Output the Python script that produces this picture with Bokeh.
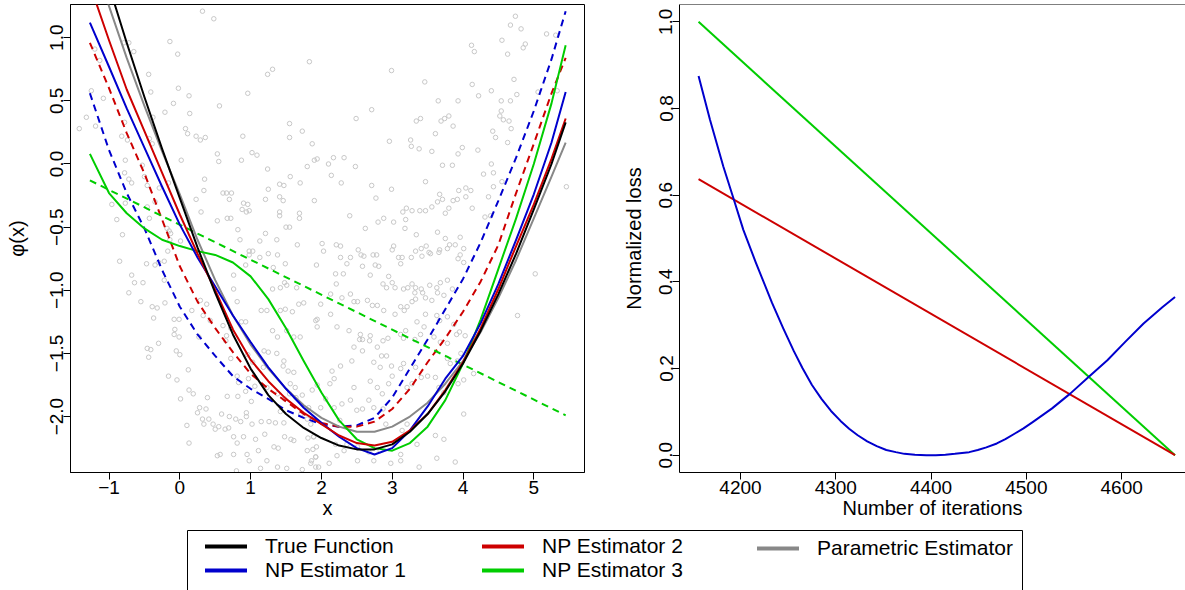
from bokeh.plotting import figure
from bokeh.layouts import column, row
from bokeh.models import (Range1d, FixedTicker, LinearAxis, Legend, LegendItem, Span,
                          PrintfTickFormatter)
from bokeh.embed import file_html
from bokeh.resources import INLINE

FONT = "Liberation Sans"
TICK_SIZE = "19px"
LAB_SIZE = "20px"
LEG_SIZE = "21px"

BLACK = "#000000"
BLUE = "#0000CD"
RED = "#CD0000"
GREEN = "#00CD00"
GREY = "#888888"
PT_GREY = "#C8C8C8"

# ---------------- left panel: observations ----------------
pts_upper_left = [
    (-1.42, 0.28), (-1.32, 0.37), (-1.25, 0.58), (-1.20, 0.91), (-1.13, 0.82), (-1.08, 0.52), (-1.19, 0.30),
    (-0.79, 0.96), (-0.72, 0.96), (-0.65, 0.89), (-0.44, 0.71), (-0.41, 0.57), (-0.14, 0.97), (-0.03, 0.87),
    (-0.02, 0.60), (-0.09, 0.48), (0.13, 0.54), (-0.21, 0.41), (-0.38, 0.37), (0.14, 0.40), (0.32, 1.21),
    (0.48, 1.15), (0.56, 0.46), (0.96, 0.56), (0.89, 0.22), (1.24, 0.71), (1.31, 0.75), (1.83, 0.81),
    (1.55, 0.32), (1.55, 0.21), (1.73, 0.26), (1.87, 0.16), (1.90, 0.03), (1.94, 0.04), (1.80, -0.02),
    (1.56, -0.10), (1.70, -0.15), (1.41, -0.16), (1.47, -0.17), (1.24, -0.04), (1.09, 0.07), (1.02, 0.09),
    (0.87, 0.03), (0.53, 0.08), (0.55, 0.02), (0.23, 0.22), (0.36, 0.21), (0.29, 0.19), (0.08, 0.28),
    (0.11, 0.24), (0.02, 0.03), (0.35, -0.12), (0.34, -0.21), (0.23, -0.28), (0.61, -0.23), (0.66, -0.23),
    (0.73, -0.23), (0.70, -0.28), (0.30, -0.38), (0.53, -0.45), (0.67, -0.43), (0.72, -0.43), (0.90, -0.31),
    (0.96, -0.32), (0.88, -0.36), (0.94, -0.38), (0.98, -0.37), (0.82, -0.52), (0.85, -0.60), (1.21, -0.28),
    (1.25, -0.20), (1.41, -0.26), (1.46, -0.29), (1.41, -0.38), (1.41, -0.41), (1.55, -0.50), (1.69, -0.39),
    (1.69, -0.43), (1.13, -0.61), (1.21, -0.55), (1.37, -0.60), (1.50, -0.50), (1.66, -0.64), (1.90, -0.29),
    (1.03, -0.69), (0.98, -0.69), (-0.89, -0.44), (-0.96, -0.32), (-0.81, -0.56), (-0.77, -0.31),
    (-0.78, 0.33), (-0.82, 0.22), (-0.74, 0.19), (-0.77, 0.03), (-0.78, -0.07), (-0.72, -0.12), (-0.68, -0.15),
    (-0.53, -0.01), (-0.50, -0.10), (-0.46, -0.17), (-0.46, -0.34), (-0.43, -0.43), (-0.35, -0.30),
    (-0.29, -0.19), (-0.16, -0.15), (-0.18, -0.51), (-0.15, -0.53), (-0.13, -0.55), (-0.14, -0.60),
    (0.01, -0.61), (-0.17, -0.69), (-0.39, 0.16), (-0.43, 0.20),
]
pts_upper_right = [
    (2.14, -0.09), (2.10, 0.00), (2.17, 0.05), (2.32, 0.05), (2.28, -0.15), (2.48, -0.02), (2.49, 0.36),
    (2.71, 0.43), (2.99, 0.74), (2.96, 0.18), (2.71, -0.17), (2.77, -0.27), (2.99, -0.20), (2.40, -0.41),
    (2.62, -0.51), (2.80, -0.46), (2.88, -0.43), (3.02, -0.46), (3.19, -0.44), (3.15, -0.38), (3.20, -0.35),
    (3.28, -0.37), (3.39, -0.37), (3.47, -0.37), (3.56, -0.34), (3.64, -0.30), (3.67, -0.24), (3.71, -0.28),
    (3.75, -0.39), (3.80, -0.35), (3.86, -0.29), (3.92, -0.28), (3.93, 0.50), (3.65, 0.50), (3.46, 0.65),
    (3.34, 0.34), (3.40, 0.36), (3.26, 0.19), (3.27, 0.14), (3.38, 0.12), (3.56, 0.10), (3.61, 0.24),
    (3.69, 0.34), (3.74, 0.36), (3.80, 0.38), (3.86, 0.30), (3.93, 0.08), (3.99, 0.13), (3.85, -0.01),
    (3.71, -0.01), (3.47, -0.14), (3.94, -0.21), (4.04, -0.19), (4.04, -0.26), (4.11, -0.21), (4.13, -0.35),
    (4.21, 0.11), (4.13, 0.63), (4.22, 0.54), (4.12, 0.94), (4.16, 0.89), (4.29, -0.08), (4.43, -0.07),
    (4.40, 0.58), (4.36, -0.26), (4.43, -0.18), (4.31, -0.42), (4.39, -0.41), (4.46, 0.21), (4.42, 0.26),
    (4.52, 0.38), (4.54, 0.42), (4.57, 0.35), (4.54, 0.50), (4.65, 0.34), (4.68, 0.28), (4.63, 0.17),
    (4.55, 0.98), (4.63, 0.87), (4.67, 1.10), (4.74, 1.17), (4.82, 1.07), (4.85, 0.92), (4.88, 0.95),
    (4.72, 0.67), (4.76, 0.55), (4.67, 0.50), (5.06, 0.57), (5.18, 1.03), (5.31, 1.02), (5.33, 0.58),
    (5.46, -0.18), (4.40, 0.00), (4.55, -0.14), (2.01, -0.63), (2.03, -0.69), (2.21, -0.64), (2.27, -0.65),
    (2.52, -0.68), (2.56, -0.72), (2.78, -0.72), (3.00, -0.68), (3.02, -0.65), (3.33, -0.69), (3.41, -0.67),
    (3.48, -0.65), (3.52, -0.70), (3.67, -0.68), (3.78, -0.67), (3.81, -0.64), (3.89, -0.64), (4.01, -0.67),
    (3.96, -0.58), (3.75, -0.59), (3.64, -0.54), (3.34, -0.56), (3.18, -0.51),
]
pts_lower_left = [
    (-0.85, -0.77), (-0.68, -0.88), (-0.64, -0.94), (-0.52, -0.94), (-0.47, -0.79), (-0.35, -0.80),
    (-0.30, -0.78), (-0.22, -0.77), (-0.72, -1.02), (-0.55, -1.09), (-0.39, -1.13), (-0.32, -1.14),
    (-0.37, -1.22), (-0.21, -1.10), (-0.22, -0.92), (-0.08, -1.23), (-0.01, -1.23), (-0.07, -1.31),
    (-0.08, -1.35), (-0.01, -1.37), (-0.46, -1.46), (-0.41, -1.47), (-0.44, -1.53), (-0.30, -1.42),
    (-0.05, -1.48), (0.00, -1.51), (-0.16, -1.68), (-0.04, -1.71), (0.01, -1.86), (0.12, -1.63),
    (0.13, -1.79), (0.19, -1.82), (0.28, -1.93), (0.25, -1.97), (0.32, -2.02), (0.41, -2.02), (0.39, -1.85),
    (0.37, -1.94), (0.34, -2.06), (0.10, -2.07), (0.13, -2.21), (0.47, -2.06), (0.50, -2.10), (0.55, -2.08),
    (0.59, -1.98), (0.70, -2.00), (0.79, -2.02), (0.86, -2.04), (0.69, -2.09), (0.64, -2.10), (0.76, -2.16),
    (0.81, -2.21), (0.90, -2.16), (0.94, -2.00), (0.94, -1.97), (1.02, -2.06), (1.07, -2.18), (1.11, -2.27),
    (0.95, -2.30), (0.98, -2.35), (0.76, -2.30), (0.53, -2.31), (0.57, -2.30), (0.80, -2.43), (1.14, -2.41),
    (1.23, -2.35), (1.38, -2.40), (1.51, -2.41), (1.33, -2.24), (1.39, -2.25), (1.48, -2.16), (1.57, -2.18),
    (1.61, -2.19), (1.26, -2.04), (1.15, -2.04), (1.35, -2.05), (1.20, -2.14), (1.47, -2.05), (1.42, -1.96),
    (1.71, -1.98), (1.80, -2.02), (1.81, -2.17), (1.89, -2.16), (1.93, -2.24), (1.88, -2.26), (1.92, -2.32),
    (1.86, -2.35), (1.92, -2.40), (1.73, -2.42), (0.67, -1.84), (0.82, -1.84), (1.01, -1.88), (0.93, -1.80),
    (1.06, -1.76), (1.23, -1.77), (1.38, -1.82), (1.55, -1.82), (1.48, -1.86), (1.63, -1.77), (1.64, -1.85),
    (1.73, -1.83), (1.61, -1.65), (1.56, -1.74), (1.53, -1.64), (1.46, -1.60), (1.37, -1.50), (1.47, -1.56),
    (1.25, -1.49), (1.18, -1.61), (1.19, -1.48), (0.96, -1.51), (1.03, -1.57), (0.97, -1.70), (0.81, -1.68),
    (0.83, -1.73), (0.72, -1.54), (0.65, -1.40), (0.66, -1.36), (0.72, -1.30), (0.61, -1.28), (0.87, -1.25),
    (0.93, -1.25), (1.15, -1.16), (1.23, -1.16), (1.42, -1.16), (1.49, -1.15), (1.59, -1.17), (1.68, -1.11),
    (1.75, -1.10), (1.92, -1.24), (1.94, -1.29), (1.51, -1.32), (1.31, -1.32), (1.38, -1.37), (1.61, -1.37),
    (1.70, -1.37), (1.42, -0.98), (1.51, -0.96), (1.65, -0.98), (1.31, -0.99), (1.48, -0.94), (1.32, -0.82),
    (1.49, -0.79), (0.93, -0.80), (1.13, -0.74), (1.25, -0.71), (1.38, -0.72), (0.98, -0.72), (0.76, -0.88),
    (0.81, -1.09), (0.76, -0.99), (0.29, -1.08), (0.17, -1.16), (0.27, -1.37), (0.33, -1.20), (0.43, -1.24),
    (0.38, -1.11),
]
pts_lower_right = [
    (2.27, -0.74), (2.41, -0.74), (2.60, -0.73), (2.73, -0.72), (3.09, -0.74), (3.14, -0.74), (3.27, -0.74),
    (3.42, -0.73), (3.54, -0.71), (3.66, -0.70), (3.93, -0.75), (4.01, -0.78), (3.96, -0.72), (3.12, -0.79),
    (2.76, -0.80), (2.58, -0.81), (2.81, -0.81), (2.69, -0.88), (2.36, -0.79), (2.20, -0.87), (2.31, -0.87),
    (1.93, -0.80), (2.21, -0.95), (2.95, -0.89), (3.00, -0.94), (2.92, -0.98), (2.87, -0.95), (3.04, -0.98),
    (3.16, -0.99), (3.22, -0.98), (3.28, -0.95), (3.33, -0.98), (3.41, -0.99), (3.32, -1.02), (3.43, -1.02),
    (3.53, -0.96), (3.63, -0.98), (3.68, -0.94), (3.78, -0.92), (3.85, -0.99), (3.73, -1.04), (3.64, -1.02),
    (3.47, -1.06), (3.56, -1.08), (3.33, -1.07), (3.21, -1.13), (3.17, -1.16), (3.28, -1.09), (3.12, -1.13),
    (3.04, -1.19), (2.88, -1.16), (2.79, -1.12), (2.72, -1.12), (2.65, -1.08), (2.51, -1.09), (2.46, -1.09),
    (2.41, -1.03), (2.29, -1.06), (2.13, -1.03), (1.99, -1.11), (1.94, -1.23), (2.13, -1.19), (2.22, -1.29),
    (2.39, -1.32), (2.55, -1.35), (2.58, -1.39), (2.69, -1.36), (2.54, -1.39), (2.68, -1.40), (2.79, -1.45),
    (2.87, -1.40), (2.94, -1.38), (3.12, -1.35), (3.16, -1.38), (3.19, -1.32), (3.32, -1.39), (3.40, -1.35),
    (3.35, -1.25), (3.47, -1.19), (3.45, -1.29), (3.63, -1.20), (3.67, -1.24), (3.78, -1.21), (3.87, -1.27),
    (3.91, -1.35), (3.95, -1.33), (3.78, -1.42), (3.68, -1.41), (3.59, -1.37), (3.78, -1.54), (3.82, -1.58),
    (3.92, -1.56), (3.97, -1.50), (4.03, -1.36), (4.15, -1.66), (4.01, -1.71), (3.93, -1.74), (3.73, -1.81),
    (3.66, -1.77), (3.61, -1.69), (3.50, -1.68), (3.41, -1.69), (3.33, -1.61), (3.16, -1.58), (3.12, -1.62),
    (2.99, -1.60), (2.92, -1.52), (2.85, -1.52), (2.74, -1.57), (2.58, -1.48), (2.46, -1.45), (2.43, -1.56),
    (2.27, -1.60), (2.15, -1.64), (2.18, -1.70), (2.12, -1.74), (2.06, -1.86), (1.94, -1.75), (1.87, -1.79),
    (1.99, -1.93), (1.82, -1.93), (1.85, -2.06), (1.89, -2.16), (1.80, -2.27), (1.92, -2.32), (1.96, -2.40),
    (1.85, -2.37), (2.11, -2.37), (2.22, -2.31), (2.20, -2.22), (2.32, -2.27), (2.36, -2.22), (2.51, -2.24),
    (2.51, -2.35), (2.67, -2.28), (2.74, -2.35), (2.83, -2.27), (2.98, -2.37), (3.12, -2.35), (3.12, -2.30),
    (3.14, -2.11), (3.21, -2.06), (3.35, -2.22), (3.38, -2.40), (3.61, -2.15), (3.73, -2.18), (3.89, -2.36),
    (4.01, -1.98), (3.63, -2.33), (2.58, -1.94), (2.67, -1.87), (2.74, -1.93), (2.41, -1.87), (2.50, -1.95),
    (2.86, -1.82), (2.95, -1.74), (3.00, -1.68), (2.83, -1.61), (2.69, -1.72), (2.79, -1.77), (2.46, -1.77),
    (2.29, -1.90), (2.18, -1.93), (2.26, -2.03), (2.87, -1.94), (2.91, -2.06), (3.21, -1.77), (3.28, -1.74),
    (4.77, -1.20), (5.02, -0.87),
]

# ---------------- left panel: fitted curves (shared x grid) ----------------
grid_x = [-1.27, -1.0, -0.75, -0.5, -0.25, 0.0, 0.25, 0.5, 0.75, 1.0, 1.25, 1.5, 1.75, 2.0,
          2.25, 2.5, 2.75, 3.0, 3.25, 3.5, 3.75, 4.0, 4.25, 4.5, 4.75, 5.0, 5.25, 5.45]
true_y = [2.05, 1.41, 0.96, 0.53, 0.12, -0.27, -0.66, -1.02, -1.35, -1.62, -1.83, -1.98, -2.09, -2.17,
          -2.23, -2.26, -2.26, -2.22, -2.12, -1.98, -1.80, -1.58, -1.32, -1.03, -0.71, -0.36, 0.00, 0.33]
np1_y = [1.12, 0.77, 0.44, 0.13, -0.18, -0.48, -0.74, -0.97, -1.20, -1.41, -1.61, -1.78, -1.93, -2.05,
         -2.16, -2.25, -2.30, -2.25, -2.11, -1.92, -1.70, -1.52, -1.26, -0.95, -0.60, -0.24, 0.17, 0.57]
np2_y = [1.42, 0.98, 0.59, 0.26, -0.07, -0.40, -0.71, -1.00, -1.31, -1.55, -1.72, -1.86, -1.97, -2.06,
         -2.15, -2.21, -2.23, -2.20, -2.11, -1.98, -1.79, -1.57, -1.30, -0.99, -0.65, -0.32, 0.04, 0.36]
np3_y = [0.08, -0.23, -0.39, -0.51, -0.60, -0.65, -0.69, -0.72, -0.78, -0.89, -1.07, -1.30, -1.56, -1.81,
         -2.03, -2.18, -2.25, -2.27, -2.21, -2.08, -1.87, -1.58, -1.23, -0.83, -0.43, 0.00, 0.48, 0.94]
param_y = [1.75, 1.25, 0.84, 0.46, 0.10, -0.24, -0.60, -0.92, -1.20, -1.43, -1.62, -1.78, -1.91, -2.01,
           -2.08, -2.12, -2.12, -2.08, -2.00, -1.89, -1.74, -1.56, -1.33, -1.06, -0.76, -0.43, -0.10, 0.17]
np1_dash_y = [0.56, 0.11, -0.23, -0.51, -0.84, -1.13, -1.35, -1.52, -1.68, -1.78, -1.86, -1.95, -2.01, -2.06,
              -2.08, -2.07, -2.01, -1.85, -1.62, -1.39, -1.15, -0.91, -0.62, -0.29, 0.05, 0.42, 0.83, 1.21]
np2_dash_y = [0.96, 0.60, 0.245, -0.075, -0.44, -0.81, -1.09, -1.30, -1.49, -1.66, -1.78, -1.88, -1.98, -2.05,
              -2.08, -2.08, -2.04, -1.94, -1.78, -1.57, -1.38, -1.17, -0.93, -0.64, -0.23, 0.16, 0.56, 0.84]
np3_dash_x = [-1.27, 5.45]
np3_dash_y = [-0.13, -1.99]

# ---------------- right panel ----------------
iter_lin = [4156, 4656]
loss_green = [1.0, 0.0]
loss_red = [0.637, 0.0]
iter_blue = [4156, 4168, 4182, 4193, 4203, 4216, 4233, 4245, 4256, 4265, 4275, 4285, 4295, 4305,
             4314, 4323, 4333, 4343, 4353, 4363, 4372, 4383, 4395, 4405, 4415, 4425, 4440, 4449,
             4458, 4469, 4478, 4488, 4497, 4507, 4527, 4546, 4565, 4585, 4604, 4623, 4643, 4656]
loss_blue = [0.875, 0.774, 0.666, 0.590, 0.520, 0.445, 0.352, 0.292, 0.240, 0.201, 0.162, 0.130, 0.102,
             0.079, 0.061, 0.046, 0.032, 0.021, 0.012, 0.007, 0.003, 0.001, 0.0, 0.0, 0.001, 0.003,
             0.007, 0.012, 0.018, 0.027, 0.037, 0.050, 0.062, 0.077, 0.108, 0.142, 0.180, 0.219, 0.262,
             0.304, 0.342, 0.365]

legend_labels = ["True Function", "NP Estimator 1", "NP Estimator 2", "NP Estimator 3", "Parametric Estimator"]
legend_colors = [BLACK, BLUE, RED, GREEN, GREY]
legend_series = [true_y, np1_y, np2_y, np3_y, param_y]


def style_axis(ax, vertical=False, standoff=0, label_standoff=0, tick_out=7):
    ax.axis_line_color = "black"
    ax.axis_line_width = 1
    ax.major_tick_line_color = "black"
    ax.major_tick_in = 0
    ax.major_tick_out = tick_out
    ax.minor_tick_line_color = None
    ax.major_label_text_font = FONT
    ax.major_label_text_font_size = TICK_SIZE
    ax.major_label_text_color = "black"
    ax.major_label_standoff = standoff
    ax.axis_label_text_font = FONT
    ax.axis_label_text_font_size = LAB_SIZE
    ax.axis_label_text_font_style = "normal"
    ax.axis_label_text_color = "black"
    ax.axis_label_standoff = label_standoff
    if vertical:
        ax.major_label_orientation = "vertical"


# ---------------- left figure ----------------
left = figure(width=610, height=530, x_range=Range1d(-1.544, 5.716), y_range=Range1d(-2.443, 1.263),
              output_backend="svg", toolbar_location=None,
              min_border_left=70, min_border_right=26, min_border_top=4, min_border_bottom=58,
              outline_line_color="black", background_fill_color="white", border_fill_color="white")
left.xgrid.visible = False
left.ygrid.visible = False
left.xaxis.ticker = FixedTicker(ticks=[-1, 0, 1, 2, 3, 4, 5])
left.xaxis.major_label_overrides = {-1: "\u22121"}
left.yaxis.ticker = FixedTicker(ticks=[-2.0, -1.5, -1.0, -0.5, 0.0, 0.5, 1.0])
left.yaxis.major_label_overrides = {-2.0: "\u22122.0", -1.5: "\u22121.5", -1.0: "\u22121.0",
                                    -0.5: "\u22120.5", 0.0: "0.0", 0.5: "0.5", 1.0: "1.0"}
left.xaxis.axis_label = "x"
left.yaxis.axis_label = "\u03c6(x)"
style_axis(left.xaxis[0], tick_out=7, standoff=1, label_standoff=0)
style_axis(left.yaxis[0], vertical=True, tick_out=7, standoff=0, label_standoff=20)

all_pts = pts_upper_left + pts_upper_right + pts_lower_left + pts_lower_right
left.scatter([p[0] for p in all_pts], [p[1] for p in all_pts], marker="circle", size=4.5,
             fill_color=None, line_color=PT_GREY, line_width=1)

LW = 2
DASH = "7 5"
left.line(grid_x, np1_dash_y, line_color=BLUE, line_width=LW, line_dash=DASH)
left.line(grid_x, np2_dash_y, line_color=RED, line_width=LW, line_dash=DASH)
left.line(np3_dash_x, np3_dash_y, line_color=GREEN, line_width=LW, line_dash=DASH)
left.line(grid_x, param_y, line_color=GREY, line_width=LW, line_join="round")
left.line(grid_x, np3_y, line_color=GREEN, line_width=LW, line_join="round")
left.line(grid_x, np1_y, line_color=BLUE, line_width=LW, line_join="round")
left.line(grid_x, np2_y, line_color=RED, line_width=LW, line_join="round")
left.line(grid_x, true_y, line_color=BLACK, line_width=LW, line_join="round")

# ---------------- right figure ----------------
right = figure(width=575, height=530, x_range=Range1d(4136, 4667), y_range=Range1d(-0.04, 1.04),
               output_backend="svg", toolbar_location=None,
               min_border_left=69, min_border_right=0, min_border_top=4, min_border_bottom=58,
               outline_line_color=None, background_fill_color="white", border_fill_color="white")
right.xgrid.visible = False
right.ygrid.visible = False
right.xaxis.ticker = FixedTicker(ticks=[4200, 4300, 4400, 4500, 4600])
right.yaxis.ticker = FixedTicker(ticks=[0.0, 0.2, 0.4, 0.6, 0.8, 1.0])
right.yaxis.formatter = PrintfTickFormatter(format="%.1f")
right.xaxis.axis_label = "Number of iterations"
right.yaxis.axis_label = "Normalized loss"
style_axis(right.xaxis[0], tick_out=7, standoff=1, label_standoff=0)
style_axis(right.yaxis[0], vertical=True, tick_out=7, standoff=0, label_standoff=12)
right.add_layout(Span(location=1.04, dimension="width", line_color="black", line_width=1))

right.line(iter_lin, loss_green, line_color=GREEN, line_width=LW)
right.line(iter_lin, loss_red, line_color=RED, line_width=LW)
right.line(iter_blue, loss_blue, line_color=BLUE, line_width=LW, line_join="round")

# ---------------- legend strip ----------------
# the strip's ranges lie far away from the series, so only the legend entries are visible
leg = figure(width=1185, height=60, x_range=Range1d(100, 101), y_range=Range1d(100, 101),
             x_axis_type=None, y_axis_type=None, output_backend="svg", toolbar_location=None,
             min_border_left=187, min_border_right=163, min_border_top=0, min_border_bottom=0,
             outline_line_color=None, background_fill_color="white", border_fill_color="white")
for side in ("left", "right", "above"):
    ax = LinearAxis(ticker=FixedTicker(ticks=[]), axis_line_color="black", major_tick_line_color=None,
                    minor_tick_line_color=None, major_tick_out=0, major_tick_in=0)
    leg.add_layout(ax, side)

rends = []
for c, ys in zip(legend_colors, legend_series):
    rends.append(leg.line(grid_x, ys, line_color=c, line_width=4, line_cap="round"))


def make_legend(idx, loc):
    lg = Legend(items=[LegendItem(label=legend_labels[i], renderers=[rends[i]]) for i in idx],
                location=loc, orientation="vertical", border_line_color=None,
                background_fill_alpha=0, padding=0, margin=0, spacing=-2,
                glyph_width=42, glyph_height=20, label_height=20, label_standoff=18,
                label_text_font=FONT, label_text_font_size=LEG_SIZE, label_text_color="black")
    leg.add_layout(lg)


make_legend([0, 1], (18, 8))
make_legend([2, 3], (295, 8))
make_legend([4], (570, 30))

layout = column(row(left, right), leg)
open("out.html", "w").write(file_html(layout, INLINE))
